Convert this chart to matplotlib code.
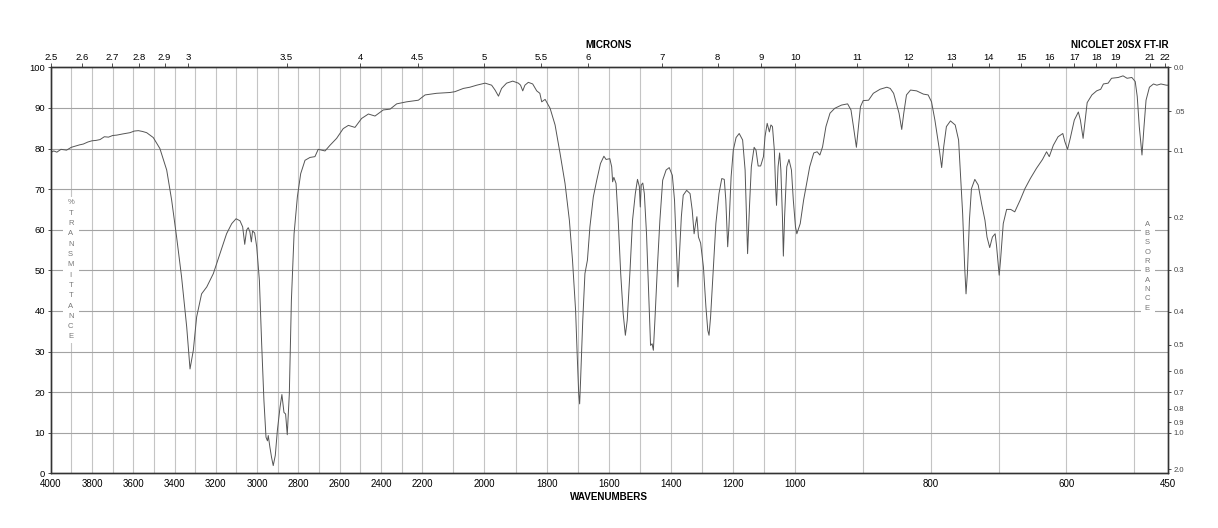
"""IR spectrum on Nicolet 20SX FT-IR chart paper, redrawn with matplotlib."""

import numpy as np
import matplotlib
import matplotlib.pyplot as plt
from matplotlib.patches import Rectangle

matplotlib.use("Agg")

plt.rcParams["font.family"] = ["Liberation Sans", "DejaVu Sans"]

# spectrum: wavenumber (cm-1) and % transmittance
wavenumber = [
    4000, 3985, 3970, 3950, 3923, 3900, 3880, 3860, 3842, 3820, 3800, 3780,
    3761, 3740, 3720, 3700, 3680, 3650, 3616, 3595, 3575, 3555, 3535, 3503,
    3471, 3438, 3414, 3390, 3366, 3341, 3325, 3309, 3293, 3269, 3244, 3212,
    3180, 3148, 3123, 3102, 3083, 3070, 3060, 3051, 3043, 3035, 3028, 3022,
    3012, 3002, 2989, 2978, 2967, 2957, 2950, 2946, 2938, 2930, 2922, 2912,
    2902, 2889, 2880, 2870, 2862, 2854, 2844, 2834, 2821, 2805, 2789, 2768,
    2744, 2720, 2704, 2671, 2647, 2615, 2583, 2558, 2526, 2494, 2461, 2429,
    2389, 2356, 2324, 2276, 2219, 2191, 2154, 2111, 2095, 2068, 2047, 2025,
    1998, 1977, 1966, 1955, 1945, 1929, 1909, 1891, 1884, 1877, 1870, 1859,
    1845, 1832, 1822, 1816, 1805, 1789, 1773, 1757, 1741, 1727, 1717, 1707,
    1702, 1697, 1694, 1691, 1684, 1677, 1669, 1661, 1650, 1639, 1627, 1616,
    1609, 1597, 1591, 1588, 1584, 1577, 1570, 1562, 1554, 1547, 1541, 1532,
    1524, 1515, 1508, 1502, 1499, 1496, 1491, 1486, 1479, 1472, 1466, 1461,
    1457, 1452, 1444, 1436, 1427, 1416, 1406, 1396, 1389, 1383, 1378, 1374,
    1367, 1361, 1350, 1339, 1332, 1326, 1321, 1317, 1312, 1305, 1296, 1288,
    1282, 1278, 1273, 1264, 1256, 1246, 1237, 1229, 1224, 1218, 1214, 1207,
    1200, 1191, 1181, 1170, 1162, 1157, 1154, 1148, 1142, 1133, 1127, 1120,
    1112, 1103, 1098, 1091, 1084, 1079, 1074, 1068, 1064, 1061, 1056, 1051,
    1047, 1042, 1039, 1035, 1028, 1021, 1013, 1007, 1000, 998, 993, 988,
    983, 979, 973, 968, 964, 960, 955, 949, 942, 932, 923, 918,
    914, 910, 907, 904, 900, 892, 885, 875, 865, 860, 855, 851,
    847, 843, 840, 836, 830, 821, 811, 804, 799, 794, 788, 784,
    781, 777, 771, 764, 759, 756, 753, 750, 748, 746, 743, 740,
    735, 730, 725, 720, 717, 713, 709, 705, 703, 699, 697, 693,
    688, 682, 676, 668, 661, 653, 644, 635, 629, 625, 619, 612,
    605, 602, 598, 594, 588, 582, 579, 575, 572, 569, 562, 555,
    549, 545, 538, 533, 523, 516, 510, 503, 498, 495, 492, 488,
    485, 482, 477, 471, 466, 460, 452, 450,
]
transmittance = [
    79.0, 79.4, 79.1, 79.8, 79.6, 80.3, 80.6, 80.9, 81.1, 81.6, 81.9, 82.0,
    82.2, 82.9, 82.8, 83.2, 83.3, 83.6, 83.9, 84.3, 84.4, 84.2, 83.9, 82.7,
    80.0, 74.7, 67.3, 58.2, 48.4, 36.0, 25.7, 30.3, 38.5, 44.2, 45.9, 49.2,
    54.1, 59.0, 61.5, 62.7, 62.2, 60.7, 56.4, 59.9, 60.5, 59.5, 57.0, 59.7,
    59.2, 55.8, 47.5, 31.9, 17.9, 8.9, 8.0, 9.3, 6.4, 3.9, 1.9, 4.4,
    10.5, 16.3, 19.4, 15.0, 14.6, 9.5, 19.6, 42.6, 59.0, 68.1, 73.8, 77.1,
    77.8, 78.0, 79.8, 79.4, 80.8, 82.5, 84.9, 85.7, 85.2, 87.4, 88.5, 88.0,
    89.5, 89.7, 91.0, 91.5, 91.9, 93.2, 93.6, 93.8, 94.0, 94.8, 95.1, 95.6,
    96.1, 95.6, 94.4, 92.9, 94.8, 96.1, 96.6, 96.1, 95.6, 94.2, 95.6, 96.3,
    95.9, 94.2, 93.6, 91.5, 92.1, 89.9, 85.8, 78.8, 71.4, 62.3, 52.5, 40.1,
    29.4, 19.6, 17.1, 22.9, 37.7, 49.2, 52.5, 60.7, 68.1, 72.2, 76.3, 78.1,
    77.3, 77.5, 75.5, 71.8, 72.9, 71.4, 62.3, 49.2, 39.3, 34.0, 37.7, 50.0,
    62.3, 68.9, 72.4, 70.6, 65.6, 71.0, 71.5, 68.9, 59.0, 44.2, 31.5, 31.9,
    30.3, 37.7, 50.8, 62.3, 72.2, 74.7, 75.3, 73.4, 67.3, 55.8, 45.9, 52.5,
    63.2, 68.5, 69.7, 68.9, 64.8, 59.0, 61.5, 63.2, 58.2, 56.7, 50.8, 41.0,
    35.2, 34.0, 38.5, 50.8, 61.5, 68.9, 72.6, 72.4, 67.3, 55.8, 60.7, 73.0,
    79.6, 82.7, 83.7, 82.1, 74.7, 62.3, 54.1, 65.6, 75.5, 80.3, 79.6, 75.7,
    75.7, 78.0, 82.9, 86.2, 84.1, 85.8, 85.4, 79.6, 70.6, 66.0, 75.5, 78.9,
    74.7, 63.2, 53.5, 63.2, 75.5, 77.3, 74.7, 67.3, 60.7, 59.0, 61.5, 67.3,
    71.8, 75.5, 78.9, 79.2, 78.4, 80.4, 85.4, 88.7, 89.9, 90.7, 91.0, 89.5,
    85.0, 80.3, 85.4, 90.3, 91.8, 91.9, 93.6, 94.6, 95.1, 94.8, 93.6, 91.1,
    88.7, 84.7, 88.7, 93.2, 94.4, 94.2, 93.4, 93.2, 91.5, 87.0, 80.4, 75.3,
    80.4, 85.4, 86.8, 85.8, 82.1, 73.0, 64.0, 50.8, 44.2, 49.2, 62.3, 70.1,
    72.4, 71.0, 66.4, 62.3, 58.2, 55.6, 58.2, 59.0, 56.2, 48.8, 52.5, 61.5,
    65.0, 65.0, 64.4, 67.3, 70.1, 72.6, 75.1, 77.3, 79.2, 78.0, 80.8, 82.9,
    83.7, 81.7, 79.8, 82.5, 87.0, 89.0, 87.0, 82.5, 87.0, 91.3, 93.2, 94.2,
    94.6, 95.9, 96.1, 97.3, 97.5, 97.9, 97.3, 97.5, 96.5, 92.8, 85.4, 78.4,
    85.4, 91.9, 95.1, 95.9, 95.6, 95.9, 95.6, 95.6,
]

wavenumber_ticks = [4000, 3800, 3600, 3400, 3200, 3000, 2800, 2600, 2400, 2200,
                    2000, 1800, 1600, 1400, 1200, 1000, 800, 600, 450]
micron_ticks = [2.5, 2.6, 2.7, 2.8, 2.9, 3, 3.5, 4, 4.5, 5, 5.5, 6, 7, 8, 9,
                10, 11, 12, 13, 14, 15, 16, 17, 18, 19, 21, 22]
micron_labels = ["2.5", "2.6", "2.7", "2.8", "2.9", "3", "3.5", "4", "4.5", "5",
                 "5.5", "6", "7", "8", "9", "10", "11", "12", "13", "14", "15",
                 "16", "17", "18", "19", "21", "22"]
percent_ticks = [0, 10, 20, 30, 40, 50, 60, 70, 80, 90, 100]
absorbance_ticks = [0.0, 0.05, 0.1, 0.2, 0.3, 0.4, 0.5, 0.6, 0.7, 0.8, 0.9, 1.0, 2.0]
absorbance_labels = ["0.0", ".05", "0.1", "0.2", "0.3", "0.4", "0.5", "0.6",
                     "0.7", "0.8", "0.9", "1.0", "2.0"]

# chart paper pitch changes at 2200 and 1000 cm-1
# (distance from the 450 end, growing with wavenumber)
BREAK_WN = np.array([450.0, 1000.0, 2200.0, 4000.0])
BREAK_POS = np.array([0.0, 372.2, 745.4, 1117.0])
LOW_SLOPE = (BREAK_POS[1] - BREAK_POS[0]) / (BREAK_WN[1] - BREAK_WN[0])
HIGH_SLOPE = (BREAK_POS[3] - BREAK_POS[2]) / (BREAK_WN[3] - BREAK_WN[2])


def forward(wn):
    wn = np.asarray(wn, dtype=float)
    pos = np.interp(wn, BREAK_WN, BREAK_POS)
    pos = np.where(wn < BREAK_WN[0], (wn - BREAK_WN[0]) * LOW_SLOPE, pos)
    pos = np.where(wn > BREAK_WN[-1], BREAK_POS[-1] + (wn - BREAK_WN[-1]) * HIGH_SLOPE, pos)
    return pos


def inverse(pos):
    pos = np.asarray(pos, dtype=float)
    wn = np.interp(pos, BREAK_POS, BREAK_WN)
    wn = np.where(pos < 0, BREAK_WN[0] + pos / LOW_SLOPE, wn)
    wn = np.where(pos > BREAK_POS[-1], BREAK_WN[-1] + (pos - BREAK_POS[-1]) / HIGH_SLOPE, wn)
    return wn


SPINE = "#333333"

fig = plt.figure(figsize=(12.18, 5.28), dpi=100)
ax = fig.add_axes([0.0416, 0.1036, 0.9171, 0.7689])
ax.set_xscale("function", functions=(forward, inverse))
ax.set_xlim(4000, 450)
ax.set_ylim(0, 100)

# chart paper grid
grid_wn = list(range(3900, 999, -100)) + [900, 800, 700, 600, 500]
for g in grid_wn:
    ax.axvline(g, color="#c4c4c4", lw=0.8, zorder=1)
for p in percent_ticks[1:-1]:
    ax.axhline(p, color="#a3a3a3", lw=0.8, zorder=1)

ax.plot(wavenumber, transmittance, color="#555555", lw=0.7, zorder=3)

ax.set_xticks(wavenumber_ticks)
ax.set_xticklabels([str(t) for t in wavenumber_ticks])
ax.minorticks_off()
ax.tick_params(axis="x", length=0, pad=4, labelsize=7)
ax.set_yticks(percent_ticks)
ax.set_yticklabels([str(p) for p in percent_ticks])
ax.tick_params(axis="y", length=2.5, width=0.6, pad=1.5, labelsize=6.8, color=SPINE)

top = ax.twiny()
top.set_xscale("function", functions=(forward, inverse))
top.set_xlim(4000, 450)
top.set_xticks([10000 / m for m in micron_ticks])
top.set_xticklabels(micron_labels)
top.minorticks_off()
top.tick_params(axis="x", length=3, width=0.6, pad=1, labelsize=6.8, color=SPINE)

right = ax.twinx()
right.set_ylim(0, 100)
right.set_yticks([100 * 10 ** -a for a in absorbance_ticks])
right.set_yticklabels(absorbance_labels)
right.tick_params(axis="y", length=2.5, width=0.6, pad=2, labelsize=5.5,
                  labelcolor="#444444", color=SPINE)

for a in (ax, top, right):
    for s in a.spines.values():
        s.set_color(SPINE)
        s.set_linewidth(0.9)

# stacked axis captions inside the plot, on a white strip
ax.add_patch(Rectangle((0.0107, 0.322), 0.0149, 0.358, transform=ax.transAxes,
                       fc="white", ec="none", zorder=2))
for i, ch in enumerate("%TRANSMITTANCE"):
    ax.text(0.0179, 0.666 - i * 0.0254, ch, transform=ax.transAxes, ha="center",
            va="center", fontsize=5.5, color="#777777", zorder=2.5)

ax.add_patch(Rectangle((0.9757, 0.392), 0.0126, 0.236, transform=ax.transAxes,
                       fc="white", ec="none", zorder=2))
for i, ch in enumerate("ABSORBANCE"):
    ax.text(0.9817, 0.614 - i * 0.023, ch, transform=ax.transAxes, ha="center",
            va="center", fontsize=5.5, color="#777777", zorder=2.5)

fig.text(0.5, 0.9148, "MICRONS", ha="center", va="center", fontsize=7.1, weight="bold")
fig.text(0.9195, 0.9148, "NICOLET 20SX FT-IR", ha="center", va="center",
         fontsize=7.1, weight="bold")
fig.text(0.5, 0.0593, "WAVENUMBERS", ha="center", va="center", fontsize=7.1, weight="bold")

fig.savefig("out.png", dpi=100)
